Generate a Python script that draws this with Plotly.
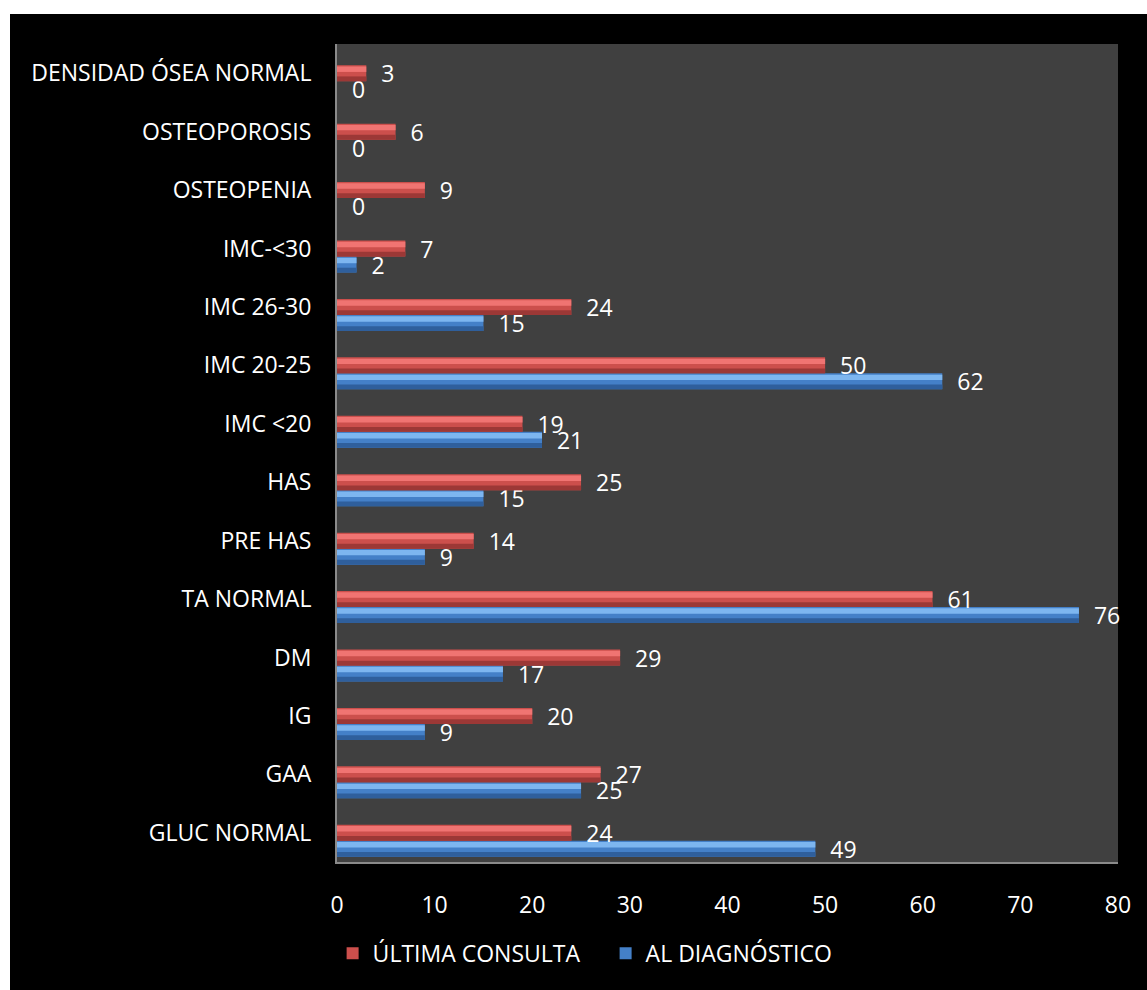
import plotly.graph_objects as go

categories = ["GLUC NORMAL", "GAA", "IG", "DM", "TA NORMAL", "PRE HAS", "HAS",
              "IMC <20", "IMC 20-25", "IMC 26-30", "IMC-<30", "OSTEOPENIA",
              "OSTEOPOROSIS", "DENSIDAD ÓSEA NORMAL"]
ultima_consulta = [24, 27, 20, 29, 61, 14, 25, 19, 50, 24, 7, 9, 6, 3]
al_diagnostico = [49, 25, 9, 17, 76, 9, 15, 21, 62, 15, 2, 0, 0, 0]
x_ticks = [0, 10, 20, 30, 40, 50, 60, 70, 80]

FONT = "Open Sans"
FS = 23
W = 0.274  # bar thickness in category units

fig = go.Figure()

def add_series(values, name, base_col, hi_col, lo_col, off):
    fig.add_trace(go.Bar(
        y=categories, x=values, orientation="h", name=name,
        marker=dict(color=base_col, line=dict(width=0)),
        offset=off, width=W,
        text=values, texttemplate="\u00a0\u00a0%{x}", textposition="outside",
        textfont=dict(color="white", size=FS, family=FONT),
        constraintext="none", cliponaxis=False,
        hoverinfo="x+y",
    ))
    fig.add_trace(go.Bar(
        y=categories, x=values, orientation="h", name=name,
        marker=dict(color=hi_col, line=dict(width=0)),
        offset=off + W * 0.58, width=W * 0.34,
        showlegend=False, hoverinfo="skip",
    ))
    fig.add_trace(go.Bar(
        y=categories, x=values, orientation="h", name=name,
        marker=dict(color=lo_col, line=dict(width=0)),
        offset=off, width=W * 0.3,
        showlegend=False, hoverinfo="skip",
    ))

add_series(al_diagnostico, "AL DIAGNÓSTICO", "#4480C8", "#7DB6F0", "#2F5F9C", -W / 2 - W)
add_series(ultima_consulta, "ÚLTIMA CONSULTA", "#CC4F4C", "#F07472", "#9C3836", -W / 2)

fig.update_layout(
    width=1147, height=990,
    margin=dict(l=337, r=29, t=44, b=128),
    paper_bgcolor="black", plot_bgcolor="#404040",
    barmode="overlay",
    font=dict(family=FONT, color="white", size=FS),
    showlegend=True,
    legend=dict(orientation="h", traceorder="reversed",
                xref="container", yref="container",
                x=0.528, y=0.037, xanchor="center", yanchor="middle",
                entrywidth=228, entrywidthmode="pixels",
                font=dict(size=FS, color="white", family=FONT),
                bgcolor="rgba(0,0,0,0)"),
    xaxis=dict(range=[0, 80], tickvals=x_ticks, showgrid=False, zeroline=False,
               showline=True, linecolor="#8a8a8a", linewidth=2,
               ticks="", ticklabelstandoff=21,
               tickfont=dict(size=FS, color="white", family=FONT)),
    yaxis=dict(categoryorder="array", categoryarray=categories,
               showgrid=False, zeroline=False, showline=True,
               linecolor="#8a8a8a", linewidth=2, ticks="",
               ticklabelstandoff=19,
               tickfont=dict(size=FS, color="white", family=FONT)),
    shapes=[
        dict(type="rect", xref="paper", yref="paper",
             x0=-0.45, x1=(10 - 337) / 781, y0=-0.2, y1=1.1,
             fillcolor="white", line=dict(width=0), layer="above"),
        dict(type="rect", xref="paper", yref="paper",
             x0=-0.45, x1=1.1, y0=(862 - 14) / 818, y1=1.1,
             fillcolor="white", line=dict(width=0), layer="above"),
    ],
)

fig.write_html("out.html")
